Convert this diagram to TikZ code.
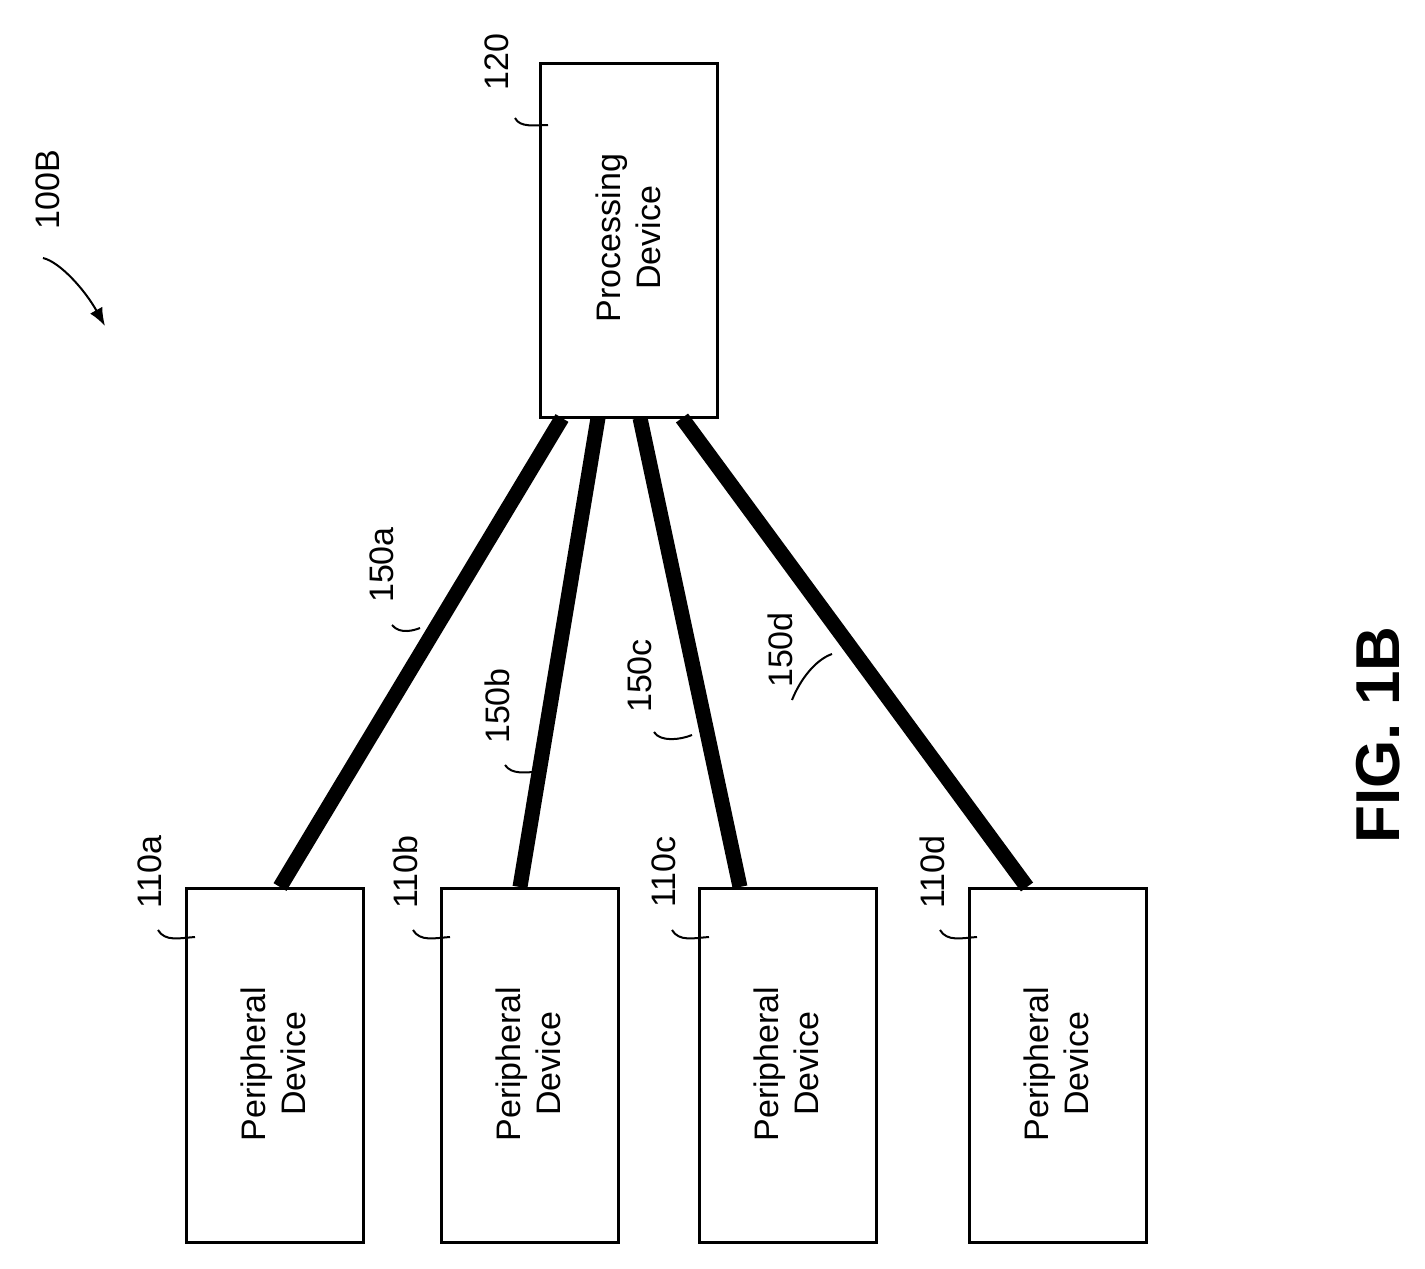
\documentclass[tikz,border=0pt]{standalone}
\usepackage{fontspec}
\usetikzlibrary{arrows.meta}
\setmainfont{Liberation Sans}
\begin{document}
\begin{tikzpicture}[x=1pt,y=-1pt,
 box/.style={draw,line width=3pt,minimum width=177pt,minimum height=354pt,anchor=north west,inner sep=0pt},
 bt/.style={rotate=90,font=\fontsize{34}{40}\selectfont,align=center},
 lab/.style={rotate=90,font=\fontsize{34}{36}\selectfont,inner sep=0pt},
 link/.style={line width=15pt},
 lead/.style={line width=2pt}]
\useasboundingbox (0,0) rectangle (1425,1269);
\node[box] (p) at (539,62) {};
\node[bt] (pt) at (628,238) {Processing\\Device};
\foreach \n/\x in {a/185,b/440,c/698,d/968}{
  \node[box] (d\n) at (\x,887) {};
  \node[bt] (t\n) at (\x+88.5,1064) {Peripheral\\Device};
}
\coordinate (s1) at (562,418); \coordinate (e1) at (280,887);
\coordinate (s2) at (598,418); \coordinate (e2) at (520,887);
\coordinate (s3) at (640,418); \coordinate (e3) at (740,887);
\coordinate (s4) at (682,418); \coordinate (e4) at (1027,887);
\draw[link] (s1)--(e1); \draw[link] (s2)--(e2);
\draw[link] (s3)--(e3); \draw[link] (s4)--(e4);
% labels
\node[lab] (l120) at (497,62) {120};
\draw[lead] (515,118) .. controls (520,128) and (535,125) .. (548,125);
\node[lab,font=\fontsize{34}{36}\selectfont] (l100) at (48,190) {100B};
\draw[lead,-{Latex[length=18pt,width=14pt]}] (43,258) .. controls (60,262) and (85,290) .. (105,326);
\node[lab] (la) at (382,565) {150a};
\draw[lead] (392,625) .. controls (400,635) and (415,630) .. (420,628);
\node[lab] (lb) at (497,706) {150b};
\draw[lead] (505,765) .. controls (512,775) and (525,772) .. (537,772);
\node[lab] (lc) at (640,676) {150c};
\draw[lead] (654,732) .. controls (660,742) and (680,740) .. (692,735);
\node[lab] (ld) at (780,650) {150d};
\draw[lead] (792,700) .. controls (800,680) and (815,660) .. (832,654);
\foreach \n/\x in {a/150,b/405,c/664,d/932}{
  \node[lab] (p\n) at (\x,872) {110\n};
  \draw[lead] (\x+8,930) .. controls (\x+15,942) and (\x+30,938) .. (\x+45,937);
}
\node[rotate=90,font=\bfseries\fontsize{62}{64}\selectfont] (fig) at (1378,735) {FIG. 1B};
\end{tikzpicture}
\end{document}
